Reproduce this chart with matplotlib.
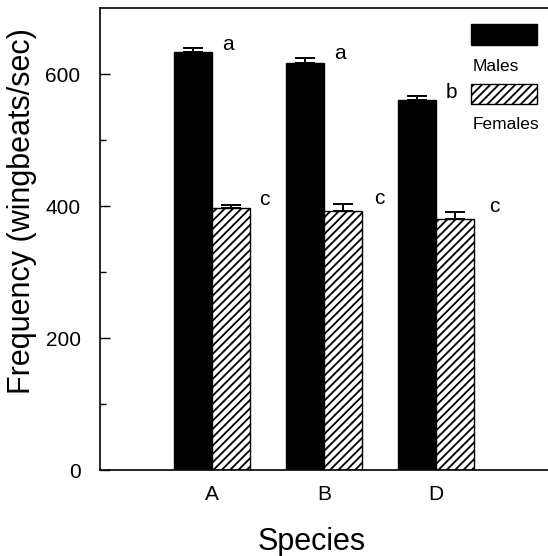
import matplotlib

matplotlib.use("Agg")
import matplotlib.pyplot as plt
import numpy as np
from matplotlib.patches import Rectangle

plt.rcParams["font.family"] = ["Liberation Sans", "DejaVu Sans"]
plt.rcParams["hatch.linewidth"] = 1.3

species = ["A", "B", "D"]
males = [634, 616, 560]
males_err = [5, 9, 6]
males_sig = ["a", "a", "b"]
females = [397, 393, 380]
females_err = [5, 10, 11]
females_sig = ["c", "c", "c"]

W = 0.335
x = np.arange(len(species))

fig = plt.figure(figsize=(5.48, 5.56), dpi=100, facecolor="white")
ax = fig.add_axes([100 / 548, 1 - 470 / 556, 448 / 548, 462 / 556])

ax.bar(x - W / 2, males, W, color="black", edgecolor="black", linewidth=1.0,
       yerr=[np.zeros(3), males_err], capsize=7,
       error_kw=dict(elinewidth=1.4, capthick=1.4, ecolor="black"))
ax.bar(x + W / 2, females, W, color="white", edgecolor="black", linewidth=1.0,
       hatch="////",
       yerr=[np.zeros(3), females_err], capsize=7,
       error_kw=dict(elinewidth=1.4, capthick=1.4, ecolor="black"))

# significance letters
for i in range(len(species)):
    ax.text(x[i] + 0.14, males[i] + males_err[i] + 6, males_sig[i],
            ha="center", va="center", fontsize=15)
    ax.text(x[i] + W + 0.13 + 0.03 * i, females[i] + females_err[i] + 8,
            females_sig[i], ha="center", va="center", fontsize=15)

ax.set_xlim(-1, 3)
ax.set_ylim(0, 700)
ax.set_xticks(x)
ax.set_xticklabels(species)
ax.set_yticks([0, 200, 400, 600])
ax.set_yticks([100, 300, 500], minor=True)
ax.tick_params(axis="y", which="major", direction="in", length=7, width=1.0,
               labelsize=15, pad=14)
ax.tick_params(axis="y", which="minor", direction="in", length=4, width=1.0)
ax.tick_params(axis="x", length=0, labelsize=15, pad=11)
ax.spines["right"].set_visible(False)
for s in ["left", "top", "bottom"]:
    ax.spines[s].set_linewidth(1.2)

ax.set_ylabel("Frequency (wingbeats/sec)", fontsize=22)
ax.yaxis.set_label_coords(-0.14, 0.56)
ax.set_xlabel("Species", fontsize=22)
ax.xaxis.set_label_coords(0.473, -0.124)

# legend drawn by hand: swatch above its label
ax.add_patch(Rectangle((0.828, 0.920), 0.147, 0.046, transform=ax.transAxes,
                       facecolor="black", edgecolor="black", clip_on=False))
ax.text(0.832, 0.873, "Males", transform=ax.transAxes, ha="left", va="center",
        fontsize=12.5)
ax.add_patch(Rectangle((0.828, 0.792), 0.147, 0.043, transform=ax.transAxes,
                       facecolor="white", edgecolor="black", hatch="////",
                       clip_on=False))
ax.text(0.832, 0.747, "Females", transform=ax.transAxes, ha="left", va="center",
        fontsize=12.5)

fig.savefig("out.png", dpi=100, facecolor="white")
